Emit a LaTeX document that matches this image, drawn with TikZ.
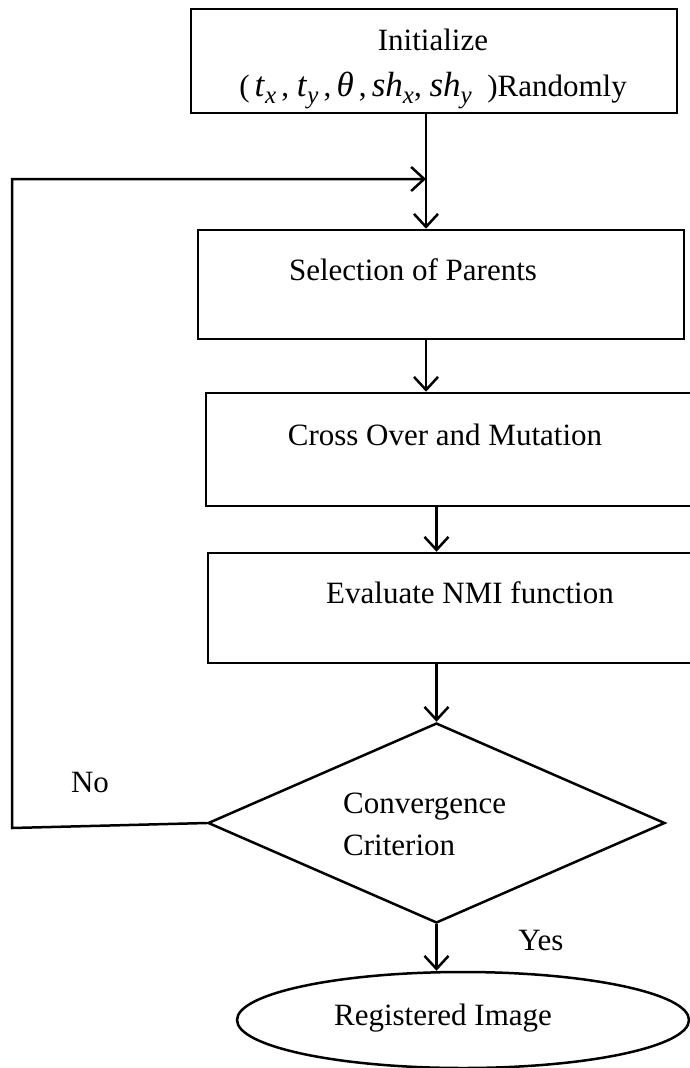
\documentclass[tikz,border=0pt]{standalone}
\usepackage{fontspec}
\setmainfont{Liberation Serif}
\usetikzlibrary{shapes.geometric,arrows.meta}
\newcommand{\var}[2]{{\fontsize{35}{37}\selectfont\textit{#1}\raisebox{-7pt}{\fontsize{25}{30}\selectfont\textit{#2}}}}
\tikzset{
	box/.style={draw, line width=2.5pt, rectangle, inner sep=0pt},
	txt/.style={inner sep=0pt, font=\fontsize{31}{37}\selectfont},
	arr/.style={line width=2.5pt, -{Straight Barb[length=13pt,width=24pt]}},
}
\begin{document}
\begin{tikzpicture}[x=1pt, y=-1pt]
		\useasboundingbox (0,0) rectangle (690,1068);
		\clip (0,0) rectangle (690,1068);

		\node[box, minimum width=486pt, minimum height=104pt] (init) at (434,61) {};
		\node[box, minimum width=486pt, minimum height=109pt] (sel) at (441,284.5) {};
		\node[box, minimum width=514pt, minimum height=113pt] (cross) at (463,449.5) {};
		\node[box, minimum width=512pt, minimum height=110pt] (eval) at (464,608) {};
		\node[box, diamond, minimum width=457pt, minimum height=200pt] (conv) at (436.5,823) {};
		\node[box, ellipse, minimum width=452pt, minimum height=96pt] (reg) at (463,1020) {};

		\node[txt, align=center, font=\fontsize{31}{46}\selectfont] (initTxt) at (433,69) {Initialize\\(\,\var{t}{x}\,,\ \var{t}{y}\,,\,{\fontsize{35}{37}\selectfont\textit{θ}}\,,\,\var{sh}{x},\ \var{sh}{y}\,\,\,)Randomly};
		\node[txt] (selTxt) at (413,270) {Selection of Parents};
		\node[txt] (crossTxt) at (445,435) {Cross Over and Mutation};
		\node[txt] (evalTxt) at (470,593) {Evaluate NMI function};
		\node[txt, anchor=west, align=left, font=\fontsize{31}{42}\selectfont] (convTxt) at (343,824) {Convergence\\Criterion};
		\node[txt] (regTxt) at (443,1018) {Registered Image};
		\node[txt] (no) at (90,782) {No};
		\node[txt] (yes) at (541,940) {Yes};

		\coordinate (split) at (426,179);
		\coordinate (fbTop) at (12,179);
		\coordinate (fbBot) at (12,828);

		\draw[arr] (init.south -| split) -- (sel.north -| split);
		\draw[arr] (sel.south -| split) -- (cross.north -| split);
		\draw[arr] (cross.south -| conv.north) -- (eval.north -| conv.north);
		\draw[arr] (eval.south -| conv.north) -- (conv.north);
		\draw[arr] (conv.south) -- (reg.north -| conv.south);
		\draw[arr] (conv.west) -- (fbBot) -- (fbTop) -- (split);
    \end{tikzpicture}
\end{document}
